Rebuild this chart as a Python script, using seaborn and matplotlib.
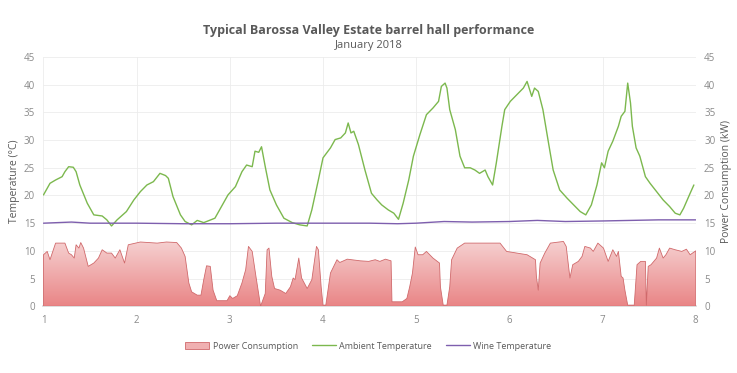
import numpy as np
import pandas as pd
import matplotlib
matplotlib.use("Agg")
import matplotlib.pyplot as plt
import seaborn as sns
from matplotlib.colors import LinearSegmentedColormap
from matplotlib.patches import Patch
from matplotlib.lines import Line2D

# Ambient temperature (day of month, deg C)
amb_day = [1.00, 1.07, 1.13, 1.20, 1.23, 1.27, 1.32, 1.35, 1.39, 1.47, 1.54, 1.63, 1.68, 1.73,
           1.79, 1.89, 1.97, 2.04, 2.11, 2.18, 2.25, 2.31, 2.34, 2.39, 2.47, 2.52, 2.59, 2.65,
           2.72, 2.84, 2.91, 2.98, 3.06, 3.13, 3.18, 3.24, 3.27, 3.31, 3.34, 3.38, 3.43, 3.50,
           3.58, 3.67, 3.75, 3.83, 3.88, 3.95, 4.00, 4.08, 4.13, 4.19, 4.24, 4.27, 4.30, 4.33,
           4.38, 4.45, 4.52, 4.58, 4.63, 4.70, 4.76, 4.81, 4.86, 4.92, 4.97, 5.04, 5.11, 5.18,
           5.24, 5.27, 5.31, 5.33, 5.36, 5.42, 5.47, 5.52, 5.58, 5.63, 5.68, 5.74, 5.77, 5.82,
           5.86, 5.92, 5.95, 6.01, 6.08, 6.15, 6.19, 6.24, 6.27, 6.31, 6.36, 6.42, 6.47, 6.54,
           6.62, 6.69, 6.76, 6.82, 6.88, 6.94, 6.99, 7.02, 7.06, 7.11, 7.17, 7.20, 7.24, 7.27,
           7.30, 7.32, 7.36, 7.40, 7.46, 7.51, 7.58, 7.65, 7.72, 7.78, 7.83, 7.87, 7.94, 7.98]
amb_temp = [20.1, 22.2, 22.8, 23.4, 24.3, 25.2, 25.1, 24.3, 21.9, 18.6, 16.5, 16.3, 15.6, 14.5,
            15.6, 17.1, 19.2, 20.7, 21.9, 22.5, 24.0, 23.6, 23.1, 19.8, 16.5, 15.3, 14.7, 15.5,
            15.1, 15.9, 18.0, 20.1, 21.6, 24.3, 25.5, 25.2, 28.0, 27.8, 28.8, 25.2, 21.0, 18.3,
            15.9, 15.1, 14.7, 14.5, 17.4, 22.8, 26.8, 28.6, 30.1, 30.4, 31.3, 33.1, 31.3, 31.6,
            29.2, 24.6, 20.4, 19.2, 18.3, 17.4, 16.8, 15.7, 18.6, 22.8, 27.1, 31.0, 34.6, 35.8,
            37.0, 39.7, 40.3, 39.4, 35.5, 31.9, 27.1, 25.0, 25.0, 24.6, 24.0, 24.6, 23.4, 21.9,
            25.9, 32.5, 35.5, 37.0, 38.2, 39.4, 40.6, 37.9, 39.4, 38.8, 35.5, 29.5, 24.6, 21.0,
            19.5, 18.3, 17.1, 16.5, 18.3, 21.9, 25.9, 25.0, 28.0, 29.8, 32.5, 34.3, 35.2, 40.3,
            36.7, 32.5, 28.6, 27.1, 23.4, 22.2, 20.7, 19.2, 18.0, 16.8, 16.5, 17.7, 20.4, 21.9]

# Wine temperature
wine_day = [1.0, 1.3, 1.5, 2.0, 2.5, 3.0, 3.5, 4.0, 4.5, 4.8, 5.0, 5.3, 5.6, 6.0, 6.3, 6.6,
            7.0, 7.3, 7.6, 8.0]
wine_temp = [15.0, 15.2, 15.0, 15.0, 14.9, 14.9, 15.0, 15.0, 15.0, 14.9, 15.0, 15.3, 15.2,
             15.3, 15.5, 15.3, 15.4, 15.5, 15.6, 15.6]

# Power consumption (kW)
pow_day = [1.00, 1.04, 1.07, 1.13, 1.23, 1.27, 1.30, 1.33, 1.35, 1.38, 1.40, 1.43, 1.48, 1.54,
           1.59, 1.63, 1.68, 1.73, 1.77, 1.82, 1.87, 1.91, 2.04, 2.22, 2.32, 2.43, 2.48, 2.52,
           2.56, 2.59, 2.65, 2.69, 2.72, 2.75, 2.79, 2.82, 2.86, 2.97, 3.00, 3.03, 3.08, 3.13,
           3.17, 3.20, 3.24, 3.28, 3.32, 3.33, 3.38, 3.40, 3.42, 3.45, 3.48, 3.54, 3.60, 3.65,
           3.68, 3.70, 3.74, 3.77, 3.83, 3.88, 3.93, 3.95, 3.98, 4.00, 4.03, 4.08, 4.15, 4.18,
           4.26, 4.40, 4.49, 4.56, 4.61, 4.67, 4.73, 4.74, 4.85, 4.90, 4.93, 4.96, 4.99, 5.02,
           5.07, 5.11, 5.18, 5.25, 5.26, 5.29, 5.33, 5.36, 5.38, 5.44, 5.52, 5.65, 5.90, 5.97,
           6.08, 6.19, 6.28, 6.29, 6.31, 6.33, 6.38, 6.44, 6.58, 6.61, 6.65, 6.68, 6.74, 6.78,
           6.81, 6.87, 6.90, 6.95, 7.01, 7.06, 7.11, 7.15, 7.17, 7.20, 7.22, 7.24, 7.27, 7.34,
           7.37, 7.41, 7.46, 7.47, 7.49, 7.52, 7.58, 7.61, 7.65, 7.68, 7.72, 7.78, 7.85, 7.90,
           7.94, 8.00]
pow_kw = [9.3, 9.9, 8.4, 11.4, 11.4, 9.6, 9.3, 8.7, 11.1, 10.5, 11.5, 10.5, 7.2, 7.8,
          8.7, 10.2, 9.6, 9.6, 8.7, 10.2, 7.8, 11.1, 11.6, 11.4, 11.6, 11.5, 10.5, 9.0,
          4.2, 2.6, 2.0, 2.0, 4.8, 7.3, 7.2, 2.9, 1.0, 1.0, 1.9, 1.4, 1.9, 4.2,
          6.6, 10.8, 9.9, 5.4, 1.1, 0.0, 2.3, 10.2, 10.5, 5.4, 3.2, 2.9, 2.3, 3.5,
          5.1, 4.8, 8.7, 5.1, 3.2, 4.8, 10.8, 10.2, 3.5, 0.2, 0.2, 6.0, 8.4, 7.9,
          8.5, 8.2, 8.1, 8.4, 8.1, 8.5, 8.2, 0.8, 0.8, 1.4, 3.5, 6.0, 10.7, 9.3,
          9.3, 9.9, 8.7, 7.8, 3.5, 0.2, 0.2, 3.5, 8.4, 10.5, 11.4, 11.4, 11.4, 9.9,
          9.6, 9.3, 8.4, 5.4, 2.9, 7.8, 9.6, 11.4, 11.7, 10.8, 5.1, 7.5, 8.1, 9.0,
          10.8, 10.5, 9.9, 11.4, 10.5, 8.1, 10.2, 9.0, 9.9, 5.4, 5.1, 2.9, 0.2, 0.2,
          7.5, 8.1, 8.1, 0.2, 7.2, 7.5, 8.7, 10.5, 8.7, 9.3, 10.5, 10.2, 9.9, 10.3,
          9.3, 10.0]

amb = pd.DataFrame({"day": amb_day, "temp": amb_temp})
wine = pd.DataFrame({"day": wine_day, "temp": wine_temp})

sns.set_theme(style="white")
plt.rcParams["font.family"] = ["Open Sans", "DejaVu Sans"]

gray = "#8a8a8a"
green = "#7cb84e"
purple = "#7e5fae"

fig, ax = plt.subplots(figsize=(7.37, 3.73), dpi=100)
fig.subplots_adjust(left=0.059, right=0.944, top=0.847, bottom=0.179)

sns.lineplot(data=amb, x="day", y="temp", ax=ax, color=green, lw=1.0, zorder=3)
sns.lineplot(data=wine, x="day", y="temp", ax=ax, color=purple, lw=1.0, zorder=3)

ax2 = ax.twinx()
poly = ax2.fill_between(pow_day, pow_kw, 0, facecolor="none", edgecolor="#d0696b", lw=0.6, zorder=2)
grad = np.linspace(0, 1, 256).reshape(-1, 1)
cmap = LinearSegmentedColormap.from_list("pw", ["#e98586", "#f6d2d2"])
img = ax2.imshow(grad, extent=[1, 8, 0, 11.8], origin="lower", aspect="auto", cmap=cmap, zorder=1)
img.set_clip_path(poly.get_paths()[0], transform=ax2.transData)

for a in (ax, ax2):
    a.set_xlim(1, 8)
    a.set_ylim(0, 45)
    a.set_yticks(range(0, 50, 5))
    for s in a.spines.values():
        s.set_visible(False)
    a.tick_params(colors=gray, labelsize=7, length=0, pad=6)

ax.spines["bottom"].set_visible(True)
ax.spines["bottom"].set_color("#d9d9d9")
ax.set_xticks(range(1, 9))
ax.grid(True, color="#ececec", lw=0.6)
ax.set_xlabel("")
ax.set_ylabel("Temperature (°C)", color="#595959", fontsize=7.5, labelpad=3)
ax2.set_ylabel("Power Consumption (kW)", color="#595959", fontsize=7.5, labelpad=4)
ax2.grid(False)

fig.text(0.5, 0.91, "Typical Barossa Valley Estate barrel hall performance", ha="center",
         fontsize=9, fontweight="bold", color="#595959")
fig.text(0.5, 0.872, "January 2018", ha="center", fontsize=8, color="#595959")

handles = [Patch(facecolor="#f0b0b1", edgecolor="#d0696b", lw=0.6),
           Line2D([], [], color=green, lw=1.0),
           Line2D([], [], color=purple, lw=1.0)]
fig.legend(handles, ["Power Consumption", "Ambient Temperature", "Wine Temperature"],
           loc="center", bbox_to_anchor=(0.5, 0.072), ncol=3, frameon=False, fontsize=6.5,
           labelcolor="#595959", handlelength=2.6, handletextpad=0.4, columnspacing=1.6)

fig.savefig("out.png", dpi=100)
